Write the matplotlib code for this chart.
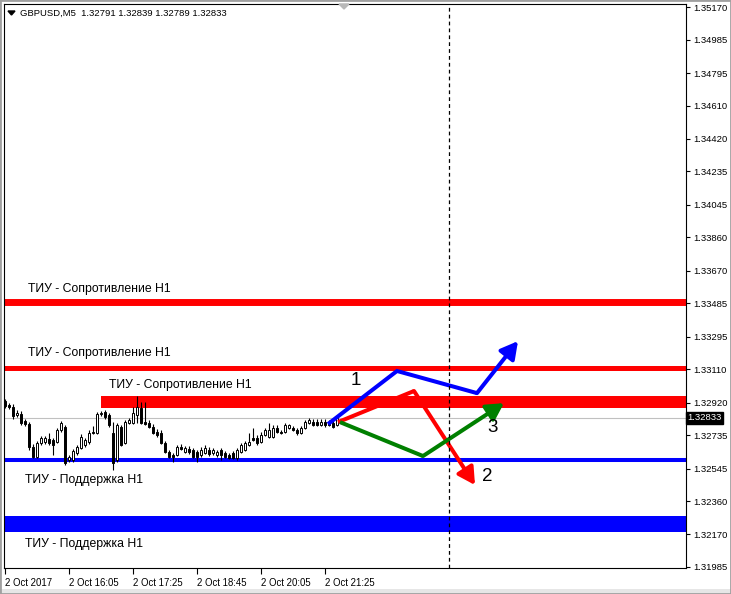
import matplotlib
matplotlib.use('Agg')
import matplotlib.pyplot as plt
from matplotlib.patches import Rectangle, Polygon
import numpy as np

plt.rcParams['font.family'] = ['Liberation Sans', 'DejaVu Sans']

# ---- data ----
header = 'GBPUSD,M5  1.32791 1.32839 1.32789 1.32833'
last_price = 1.32833

opens = [1.32929, 1.32906, 1.32895, 1.32849, 1.32855, 1.32815, 1.32798, 1.32667, 1.32610, 1.32690,
         1.32695, 1.32713, 1.32707, 1.32695, 1.32764, 1.32781, 1.32593, 1.32593, 1.32633, 1.32661,
         1.32678, 1.32695, 1.32752, 1.32747, 1.32855, 1.32866, 1.32849, 1.32747, 1.32593, 1.32781,
         1.32690, 1.32804, 1.32804, 1.32849, 1.32889, 1.32809, 1.32804, 1.32781, 1.32752, 1.32747,
         1.32690, 1.32639, 1.32621, 1.32621, 1.32667, 1.32639, 1.32656, 1.32650, 1.32639, 1.32621,
         1.32633, 1.32650, 1.32633, 1.32621, 1.32650, 1.32633, 1.32621, 1.32633, 1.32604, 1.32639,
         1.32650, 1.32678, 1.32718, 1.32718, 1.32695, 1.32735, 1.32724, 1.32724, 1.32775, 1.32752,
         1.32752, 1.32775, 1.32775, 1.32764, 1.32747, 1.32775, 1.32804, 1.32809, 1.32809, 1.32792,
         1.32809, 1.32804, 1.32804, 1.32791]
highs = [1.32940, 1.32917, 1.32912, 1.32878, 1.32872, 1.32826, 1.32809, 1.32684, 1.32701, 1.32730,
         1.32730, 1.32747, 1.32718, 1.32775, 1.32815, 1.32792, 1.32621, 1.32656, 1.32678, 1.32741,
         1.32718, 1.32764, 1.32786, 1.32866, 1.32872, 1.32878, 1.32860, 1.32809, 1.32804, 1.32792,
         1.32821, 1.32832, 1.32895, 1.32957, 1.32923, 1.32923, 1.32821, 1.32798, 1.32769, 1.32764,
         1.32701, 1.32650, 1.32633, 1.32678, 1.32684, 1.32673, 1.32673, 1.32661, 1.32650, 1.32667,
         1.32678, 1.32667, 1.32661, 1.32650, 1.32661, 1.32644, 1.32633, 1.32644, 1.32661, 1.32690,
         1.32701, 1.32747, 1.32775, 1.32735, 1.32752, 1.32775, 1.32804, 1.32792, 1.32792, 1.32764,
         1.32804, 1.32798, 1.32786, 1.32775, 1.32786, 1.32821, 1.32832, 1.32826, 1.32826, 1.32826,
         1.32826, 1.32821, 1.32815, 1.32839]
lows = [1.32889, 1.32883, 1.32826, 1.32838, 1.32792, 1.32786, 1.32650, 1.32604, 1.32604, 1.32678,
        1.32684, 1.32678, 1.32621, 1.32690, 1.32752, 1.32565, 1.32582, 1.32582, 1.32621, 1.32656,
        1.32667, 1.32684, 1.32741, 1.32741, 1.32843, 1.32826, 1.32781, 1.32536, 1.32582, 1.32673,
        1.32684, 1.32798, 1.32798, 1.32804, 1.32798, 1.32792, 1.32775, 1.32741, 1.32724, 1.32684,
        1.32633, 1.32604, 1.32582, 1.32616, 1.32650, 1.32633, 1.32627, 1.32604, 1.32582, 1.32610,
        1.32627, 1.32616, 1.32621, 1.32610, 1.32593, 1.32604, 1.32599, 1.32599, 1.32593, 1.32633,
        1.32644, 1.32673, 1.32701, 1.32678, 1.32690, 1.32730, 1.32718, 1.32718, 1.32747, 1.32741,
        1.32747, 1.32769, 1.32758, 1.32735, 1.32741, 1.32769, 1.32798, 1.32786, 1.32786, 1.32786,
        1.32781, 1.32786, 1.32775, 1.32789]
closes = [1.32900, 1.32895, 1.32843, 1.32860, 1.32804, 1.32798, 1.32667, 1.32610, 1.32690, 1.32718,
          1.32718, 1.32690, 1.32678, 1.32764, 1.32804, 1.32576, 1.32610, 1.32644, 1.32667, 1.32724,
          1.32707, 1.32747, 1.32747, 1.32855, 1.32860, 1.32838, 1.32792, 1.32576, 1.32792, 1.32678,
          1.32809, 1.32821, 1.32860, 1.32895, 1.32804, 1.32798, 1.32781, 1.32747, 1.32735, 1.32690,
          1.32639, 1.32610, 1.32610, 1.32667, 1.32656, 1.32661, 1.32639, 1.32610, 1.32610, 1.32650,
          1.32661, 1.32627, 1.32650, 1.32639, 1.32621, 1.32610, 1.32604, 1.32604, 1.32650, 1.32678,
          1.32690, 1.32695, 1.32707, 1.32690, 1.32735, 1.32764, 1.32764, 1.32775, 1.32752, 1.32747,
          1.32792, 1.32792, 1.32764, 1.32747, 1.32775, 1.32809, 1.32821, 1.32792, 1.32792, 1.32809,
          1.32792, 1.32792, 1.32781, 1.32833]

time_ticks = [0, 16, 32, 48, 64, 80]
time_labels = ['2 Oct 2017', '2 Oct 16:05', '2 Oct 17:25', '2 Oct 18:45', '2 Oct 20:05', '2 Oct 21:25']
price_ticks = [1.35170, 1.34985, 1.34795, 1.34610, 1.34420, 1.34235, 1.34045, 1.33860, 1.33670,
               1.33485, 1.33295, 1.33110, 1.32920, 1.32735, 1.32545, 1.32360, 1.32170, 1.31985]

# levels
resist_lines = [1.33492, 1.33117]
resist_zone = (24, 1.32889, 1.32957)     # start bar, low, high
support_line = 1.32593
support_zone = (1.32183, 1.32275)
vline_bar = 111

level_labels = [
    (5.75, 1.33566, 'ТИУ - Сопротивление H1'),
    (5.75, 1.33202, 'ТИУ - Сопротивление H1'),
    (26, 1.33020, 'ТИУ - Сопротивление H1'),
    (5, 1.32479, 'ТИУ - Поддержка H1'),
    (5, 1.32115, 'ТИУ - Поддержка H1'),
]

# scenario arrows
blue_x = [80.75, 98, 118, 128.25]
blue_y = [1.32798, 1.33100, 1.32974, 1.33270]
red_x = [83.25, 102.25, 117.5]
red_y = [1.32809, 1.32986, 1.32451]
green_x = [83.75, 104.5, 124.75]
green_y = [1.32809, 1.32616, 1.32917]
numbers = [(87.75, 1.33043, '1'), (120.5, 1.32502, '2'), (122, 1.32781, '3')]

# ---- figure ----
W, H = 731, 594
fig = plt.figure(figsize=(W / 100, H / 100), dpi=100)
ax = fig.add_axes([4 / W, (H - 568) / H, 682 / W, 564 / H])
ax.set_xlim(-0.25, 170.25)
ax.set_ylim(1.31979, 1.35188)

x = np.arange(len(opens))
o = np.array(opens)
c = np.array(closes)

# levels
for lvl, lw in zip(resist_lines, [5.0, 3.6]):
    ax.axhline(lvl, color='#ff0000', lw=lw, zorder=1)
ax.add_patch(Rectangle((resist_zone[0], resist_zone[1]), 200, resist_zone[2] - resist_zone[1],
                       color='#ff0000', lw=0, zorder=1))
ax.axhline(support_line, color='#0000ff', lw=2.9, zorder=1)
ax.add_patch(Rectangle((-5, support_zone[0]), 200, support_zone[1] - support_zone[0],
                       color='#0000ff', lw=0, zorder=1))
ax.axhline(last_price, color='#c0c0c0', lw=0.8, zorder=1.5)

# candles
ax.vlines(x, lows, highs, color='black', lw=0.8, zorder=2)
up = c >= o
ax.bar(x[up], (c - o)[up], bottom=o[up], width=0.6, facecolor='white', edgecolor='black', lw=0.7, zorder=3)
ax.bar(x[~up], (c - o)[~up], bottom=o[~up], width=0.6, facecolor='black', edgecolor='black', lw=0.7, zorder=3)

# arrows
for xs, ys, col in [(red_x, red_y, '#ff0000'), (green_x, green_y, '#008000'), (blue_x, blue_y, '#0000ff')]:
    ax.plot(xs[:-1], ys[:-1], color=col, lw=2.9, solid_joinstyle='miter', solid_capstyle='butt', zorder=5)
    ax.annotate('', xy=(xs[-1], ys[-1]), xytext=(xs[-2], ys[-2]),
                arrowprops=dict(arrowstyle='-|>,head_length=0.6,head_width=0.33', color=col, lw=2.9,
                                mutation_scale=17, shrinkA=0, shrinkB=0), zorder=5)

ax.axvline(vline_bar, color='black', lw=0.9, ls=(0, (3, 2.5)), zorder=6)

for tx, ty, s in level_labels:
    ax.text(tx, ty, s, fontsize=8.8, va='center', ha='left', zorder=7)
for tx, ty, s in numbers:
    ax.text(tx, ty, s, fontsize=13.5, va='center', ha='center', zorder=7)

# axes
for sp in ax.spines.values():
    sp.set_linewidth(0.8)
ax.yaxis.tick_right()
ax.set_yticks(price_ticks)
ax.set_yticklabels([f'{p:.5f}' for p in price_ticks])
ax.set_xticks(time_ticks)
ax.set_xticklabels(time_labels, ha='left')
ax.tick_params(axis='y', direction='out', length=3, width=0.8, pad=2, labelsize=6.8)
ax.tick_params(axis='x', direction='out', length=4, width=0.8, pad=3, labelsize=6.9)

ax.text(1.002, last_price, f'{last_price:.5f}', transform=ax.get_yaxis_transform(), color='white',
        fontsize=6.8, va='center', ha='left', clip_on=False,
        bbox=dict(facecolor='black', edgecolor='black', pad=1.2))

# header and chart window decorations
fig.text(20 / W, 1 - 13 / H, header, fontsize=6.8, va='center', ha='left')
fig.add_artist(Polygon([(8 / W, 1 - 11 / H), (15 / W, 1 - 11 / H), (11.5 / W, 1 - 15 / H)],
                       closed=True, color='black', transform=fig.transFigure))
fig.add_artist(Polygon([(339 / W, 1 - 4 / H), (349 / W, 1 - 4 / H), (344 / W, 1 - 9 / H)],
                       closed=True, color='#b8b8b8', transform=fig.transFigure))
fig.add_artist(Rectangle((0, 0), 1, 5 / H, transform=fig.transFigure, color='#e6e6e6', lw=0))
fig.add_artist(Rectangle((0, 0), 1, 1, transform=fig.transFigure, fill=False, edgecolor='#a0a0a0', lw=2))

fig.savefig('out.png', dpi=100)
